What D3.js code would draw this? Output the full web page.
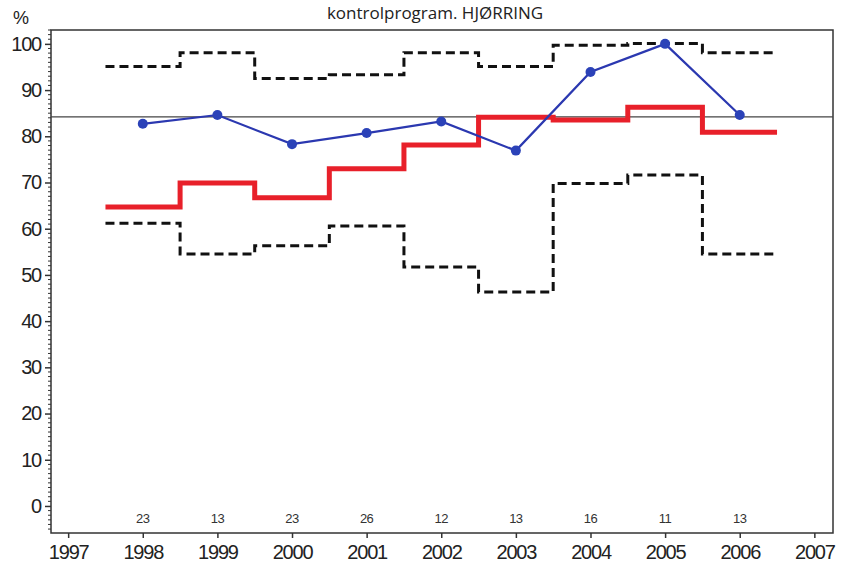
<!DOCTYPE html>
<html><head><meta charset="utf-8">
<script src="https://cdn.jsdelivr.net/npm/d3@7"></script>
<style>body{margin:0;background:#fff}svg{display:block}</style>
</head><body>
<svg id="c" width="841" height="570"></svg>
<script>
const years = [1998,1999,2000,2001,2002,2003,2004,2005,2006];
const observed = [82.7,84.6,78.3,80.7,83.2,76.9,93.9,100,84.6];
const expected = [64.7,69.9,66.7,73.0,78.1,84.1,83.5,86.3,80.9];
const upperLimit = [95.1,98.1,92.5,93.3,98.1,95.1,99.7,100.1,98.1];
const lowerLimit = [61.2,54.5,56.3,60.6,51.7,46.3,69.8,71.6,54.5];
const counts = [23,13,23,26,12,13,16,11,13];
const reference = 84.2;
const xTicks = [1997,1998,1999,2000,2001,2002,2003,2004,2005,2006,2007];
const yTicks = [0,10,20,30,40,50,60,70,80,90,100];
const title = "kontrolprogram. HJØRRING";

const svg = d3.select("#c");
const L=51, R=833, T=30, B=533;
const x = d3.scaleLinear().domain([1996.77,2007.25]).range([L,R]);
const y = d3.scaleLinear().domain([-5.85,103.0]).range([B,T]);
const font = "'Liberation Sans', Arial, sans-serif";

svg.append("text").attr("x",435).attr("y",19).attr("text-anchor","middle")
  .attr("font-family","'Open Sans', sans-serif").attr("font-size",17).attr("fill","#222").text(title);
svg.append("text").attr("x",21).attr("y",24).attr("text-anchor","middle")
  .attr("font-family",font).attr("font-size",18).attr("fill","#222").text("%");

svg.append("rect").attr("x",L).attr("y",T).attr("width",R-L).attr("height",B-T)
  .attr("fill","none").attr("stroke","#333").attr("stroke-width",1.5);

const yMinor = d3.range(-5,104,1).filter(v=>v%10!==0 && v<=103);
const yAx = svg.append("g").attr("transform",`translate(${L},0)`);
yAx.selectAll("line.mn").data(yMinor).join("line").attr("x1",-3).attr("x2",0)
  .attr("y1",d=>y(d)).attr("y2",d=>y(d)).attr("stroke","#333").attr("stroke-width",1);
yAx.call(d3.axisLeft(y).tickValues(yTicks).tickSize(6).tickPadding(4).tickFormat(d3.format("d")));
yAx.select(".domain").remove();
yAx.selectAll(".tick line").attr("stroke","#333").attr("stroke-width",1.5);
yAx.selectAll(".tick text").style("font-family",font)
  .style("font-size","20px").attr("fill","#222").attr("letter-spacing","-1.2");

const xAx = svg.append("g").attr("transform",`translate(0,${B})`);
xAx.call(d3.axisBottom(x).tickValues(xTicks).tickSize(5).tickPadding(7).tickFormat(d3.format("d")));
xAx.select(".domain").remove();
xAx.selectAll(".tick line").attr("stroke","#333").attr("stroke-width",1.5);
xAx.selectAll(".tick text").style("font-family",font)
  .style("font-size","20px").attr("fill","#222").attr("letter-spacing","-1.2");

svg.append("line").attr("x1",L).attr("x2",R).attr("y1",y(reference)).attr("y2",y(reference))
  .attr("stroke","#444").attr("stroke-width",1.3);

function stepPath(vals){
  const pts=[];
  vals.forEach((v,i)=>{pts.push([x(years[i]-0.5),y(v)]);pts.push([x(years[i]+0.5),y(v)]);});
  return d3.line()(pts);
}
svg.append("path").attr("d",stepPath(upperLimit)).attr("fill","none").attr("stroke","#111")
  .attr("stroke-width",3).attr("stroke-dasharray","9,5");
svg.append("path").attr("d",stepPath(lowerLimit)).attr("fill","none").attr("stroke","#111")
  .attr("stroke-width",3).attr("stroke-dasharray","9,5");
svg.append("path").attr("d",stepPath(expected)).attr("fill","none").attr("stroke","#e8202a")
  .attr("stroke-width",5);

const obs = years.map((yr,i)=>[x(yr),y(observed[i])]);
svg.append("path").attr("d",d3.line()(obs)).attr("fill","none").attr("stroke","#2b38b0").attr("stroke-width",2.2);
svg.selectAll("circle.o").data(obs).join("circle").attr("cx",d=>d[0]).attr("cy",d=>d[1]).attr("r",5)
  .attr("fill","#2b42b8");

svg.selectAll("text.n").data(counts).join("text").attr("x",(d,i)=>x(years[i])).attr("y",523)
  .attr("text-anchor","middle").attr("font-family",font)
  .attr("font-size",13).attr("fill","#333").attr("letter-spacing","-0.5").text(d=>d);
</script>
</body></html>
